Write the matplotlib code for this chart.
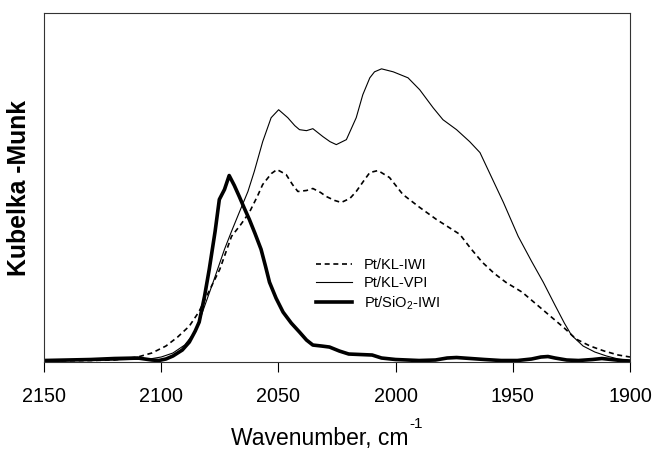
import matplotlib
matplotlib.use("Agg")
import matplotlib.pyplot as plt

plt.rcParams['font.family'] = ['Liberation Sans', 'DejaVu Sans']
plt.rcParams['mathtext.fontset'] = 'custom'
plt.rcParams['mathtext.rm'] = 'Liberation Sans'
plt.rcParams['mathtext.it'] = 'Liberation Sans:italic'

# Pt/KL-VPI (thin solid)
vpi_wn = [2150, 2120, 2105, 2100, 2095, 2090, 2086, 2083, 2078, 2073, 2070, 2066.7, 2063,
          2060.3, 2056.7, 2053.1, 2049.9, 2046, 2043, 2041, 2038, 2035.3, 2031, 2028, 2025.3,
          2021, 2016.8, 2014, 2011, 2009, 2006, 2001, 1994.7, 1989.7, 1984, 1979.8, 1974,
          1968.4, 1964, 1960, 1954, 1947.7, 1942, 1937, 1932, 1928, 1925, 1920, 1915, 1910,
          1905, 1900]
vpi_km = [0, 1, 2, 4, 8, 16, 28, 45, 78, 112, 130, 149, 170,
          190, 220, 244, 252, 244, 236, 232, 231, 233, 225, 220, 217,
          222, 244, 267, 284, 290, 293, 290, 284, 272, 254, 242, 232,
          220, 209, 189, 159, 125, 100, 79, 56, 38, 26, 15, 9, 5,
          2, 0.5]

# Pt/KL-IWI (dashed)
iwi_wn = [2150, 2130, 2120, 2110, 2104, 2098, 2093, 2088, 2084, 2080, 2075, 2070, 2066,
          2062.4, 2059, 2056.7, 2053, 2050.6, 2046.7, 2044, 2041.7, 2038, 2035.3, 2032,
          2029.6, 2026, 2023.2, 2019.5, 2016.8, 2013.5, 2011, 2007.5, 2002.6, 1996.9, 1989.7,
          1982.6, 1972.6, 1968, 1963, 1958, 1953, 1946, 1940, 1934, 1928, 1923, 1917, 1911,
          1905, 1900]
iwi_km = [0, 0.5, 1, 4, 8, 15, 24, 35, 49, 68, 92, 125, 137,
          149, 165, 177, 188, 192, 187, 177, 170, 171, 173, 169,
          165, 161, 159, 163, 170, 181, 189, 191, 184, 167, 154,
          142, 127, 113, 99, 88, 79, 69, 57, 45, 33, 22, 15, 10,
          6, 4]

# Pt/SiO2-IWI (thick)
sio2_wn = [2150, 2140, 2130, 2120, 2110, 2104, 2101, 2098, 2095, 2091, 2088, 2085.5, 2083.8,
           2081.5, 2079.5, 2077, 2075.2, 2073, 2071, 2068.8, 2066.7, 2064.5, 2062.4, 2060,
           2057.4, 2055.5, 2053.8, 2051, 2048, 2044.5, 2041, 2038, 2035.3, 2031.5, 2028.2,
           2024, 2020, 2015, 2010, 2006, 2000, 1995, 1990, 1983, 1978, 1974, 1968, 1962,
           1955, 1948, 1942, 1938, 1935, 1932, 1927, 1922, 1916, 1912, 1908, 1904, 1900]
sio2_km = [0.5, 1, 1.5, 2.5, 3, 1, 0.5, 2, 5, 11, 19, 30, 39,
           65, 92, 130, 162, 172, 186, 176, 165, 153, 142, 128,
           112, 95, 79, 63, 49, 38, 29, 21, 16, 15, 14,
           10, 7, 6.5, 6, 3, 1.5, 1, 0.5, 1, 3, 3.5, 2.5, 1.5,
           0.5, 0.5, 2, 4, 4.5, 3, 1, 0.5, 1.5, 2.5, 1.5, 0.5, 0]

xticks = [2150, 2100, 2050, 2000, 1950, 1900]

W, H = 656, 450
fig = plt.figure(figsize=(W / 100, H / 100), dpi=100)
ax = fig.add_axes([44 / W, 1 - 362 / H, (630 - 44) / W, (362 - 13) / H])

ax.plot(iwi_wn, iwi_km, color='black', lw=1.2, ls=(0, (3, 2.2)), label='Pt/KL-IWI')
ax.plot(vpi_wn, vpi_km, color='black', lw=0.8, label='Pt/KL-VPI')
ax.plot(sio2_wn, sio2_km, color='black', lw=2.6, label='Pt/SiO$_2$-IWI')

ax.set_xlim(2150, 1900)
ax.set_ylim(-1, 349)
ax.set_xticks(xticks)
ax.set_xticklabels([str(t) for t in xticks])
ax.set_yticks([])
ax.tick_params(axis='x', direction='out', length=7, width=0.8, labelsize=14.2, pad=11)
for s in ax.spines.values():
    s.set_linewidth(0.8)
    s.set_color('#333333')

ax.set_ylabel('Kubelka -Munk', fontsize=17.8, fontweight='bold', labelpad=9)

# x-axis title with high superscript, as in the reference
fig.text(320 / W, 1 - 445 / H, 'Wavenumber, cm', fontsize=16.5, ha='center', va='baseline')
fig.text(409 / W, 1 - 428 / H, '-1', fontsize=11, ha='left', va='baseline')

leg = ax.legend(loc='upper left', bbox_to_anchor=((310 - 44) / 586, 1 - (252 - 13) / 349),
                frameon=False, fontsize=10.5, handlelength=2.5, labelspacing=0.3,
                handletextpad=0.8, borderaxespad=0)

fig.savefig('out.png', dpi=100)
